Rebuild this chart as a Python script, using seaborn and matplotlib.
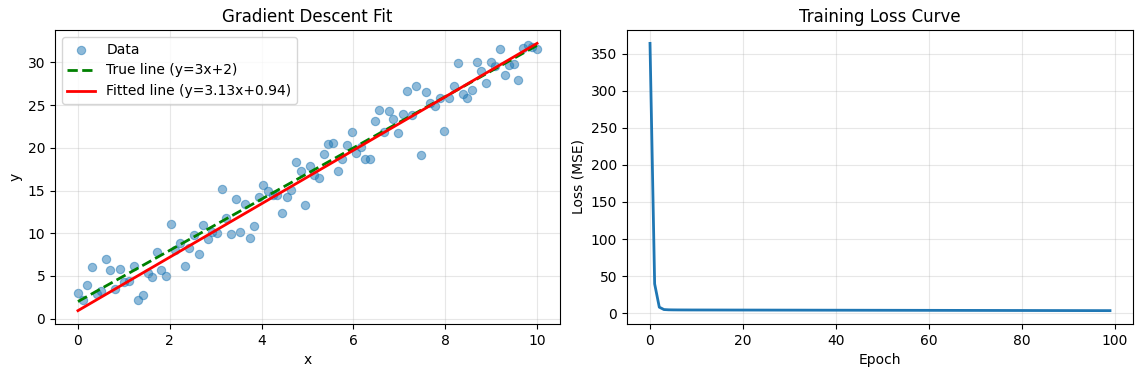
import numpy as np
import pandas as pd
import matplotlib
matplotlib.use("Agg")
import matplotlib.pyplot as plt
import seaborn as sns

# ---- data ----
x_data = np.linspace(0, 10, 100)
y_data = [3.0, 2.15, 3.95, 6.0, 2.9, 3.2, 7.0, 5.75, 3.5, 5.8,
          4.3, 4.45, 6.2, 2.2, 2.8, 5.4, 4.9, 7.85, 5.7, 5.0,
          11.1, 8.0, 8.9, 6.2, 8.3, 9.8, 7.6, 11.0, 9.35, 10.2,
          10.0, 15.2, 11.8, 9.9, 14.0, 10.2, 13.4, 9.4, 10.9, 14.3,
          15.7, 14.9, 14.45, 14.45, 12.4, 14.3, 15.1, 18.4, 17.35, 13.3,
          17.9, 16.8, 16.5, 19.3, 20.5, 20.6, 17.35, 18.7, 20.3, 21.9,
          19.35, 20.1, 18.65, 18.75, 23.1, 24.45, 21.85, 24.35, 23.4, 21.7,
          24.0, 26.7, 23.8, 27.3, 19.2, 26.5, 25.3, 24.85, 25.9, 22.0,
          25.9, 27.3, 29.9, 26.3, 25.9, 26.8, 30.0, 29.0, 27.65, 30.05,
          29.6, 31.6, 28.55, 29.7, 29.8, 28.0, 31.7, 32.0, 31.8, 31.6]
true_slope, true_intercept = 3.0, 2.0
fit_slope, fit_intercept = 3.13, 0.94

epochs = list(range(100))
loss = [364.0, 39.5, 8.1, 4.9, 4.55, 4.45, 4.40, 4.37, 4.35, 4.33,
        4.32, 4.31, 4.30, 4.29, 4.28, 4.27, 4.26, 4.25, 4.24, 4.23,
        4.22, 4.21, 4.20, 4.19, 4.18, 4.17, 4.16, 4.15, 4.14, 4.13,
        4.12, 4.11, 4.10, 4.09, 4.08, 4.07, 4.06, 4.05, 4.04, 4.03,
        4.02, 4.01, 4.00, 3.99, 3.98, 3.97, 3.96, 3.95, 3.94, 3.93,
        3.92, 3.91, 3.90, 3.89, 3.88, 3.87, 3.86, 3.85, 3.84, 3.83,
        3.82, 3.81, 3.80, 3.79, 3.78, 3.77, 3.76, 3.75, 3.74, 3.73,
        3.72, 3.71, 3.70, 3.69, 3.68, 3.67, 3.66, 3.65, 3.64, 3.63,
        3.62, 3.61, 3.60, 3.59, 3.58, 3.57, 3.56, 3.55, 3.54, 3.53,
        3.52, 3.51, 3.50, 3.49, 3.48, 3.47, 3.46, 3.45, 3.44, 3.43]

# ---- figure ----
plt.rcParams['font.family'] = ['DejaVu Sans']
fig = plt.figure(figsize=(11.42, 3.74), dpi=100)
ax1 = fig.add_axes([55/1142, 1-324/374, 505/1142, 294/374])
ax2 = fig.add_axes([627/1142, 1-324/374, 506/1142, 294/374])

df = pd.DataFrame({"x": x_data, "y": y_data})
sns.scatterplot(data=df, x="x", y="y", ax=ax1, color="#1f77b4", alpha=0.5,
                s=36, edgecolor="#1f77b4", linewidth=0.8, label="Data")
line_x = np.array([x_data[0], x_data[-1]])
sns.lineplot(x=line_x, y=true_slope*line_x+true_intercept, ax=ax1, color="green",
             linestyle="--", linewidth=2, label="True line (y=3x+2)")
sns.lineplot(x=line_x, y=fit_slope*line_x+fit_intercept, ax=ax1, color="red",
             linewidth=2, label=f"Fitted line (y={fit_slope:.2f}x+{fit_intercept:.2f})")
ax1.set_title("Gradient Descent Fit", fontsize=12)
ax1.set_xlabel("x")
ax1.set_ylabel("y")
ax1.grid(True, alpha=0.3)
ax1.legend(loc="upper left", frameon=True)

sns.lineplot(x=epochs, y=loss, ax=ax2, color="#1f77b4", linewidth=2)
ax2.set_title("Training Loss Curve", fontsize=12)
ax2.set_xlabel("Epoch")
ax2.set_ylabel("Loss (MSE)")
ax2.grid(True, alpha=0.3)

fig.savefig("out.png", dpi=100)
